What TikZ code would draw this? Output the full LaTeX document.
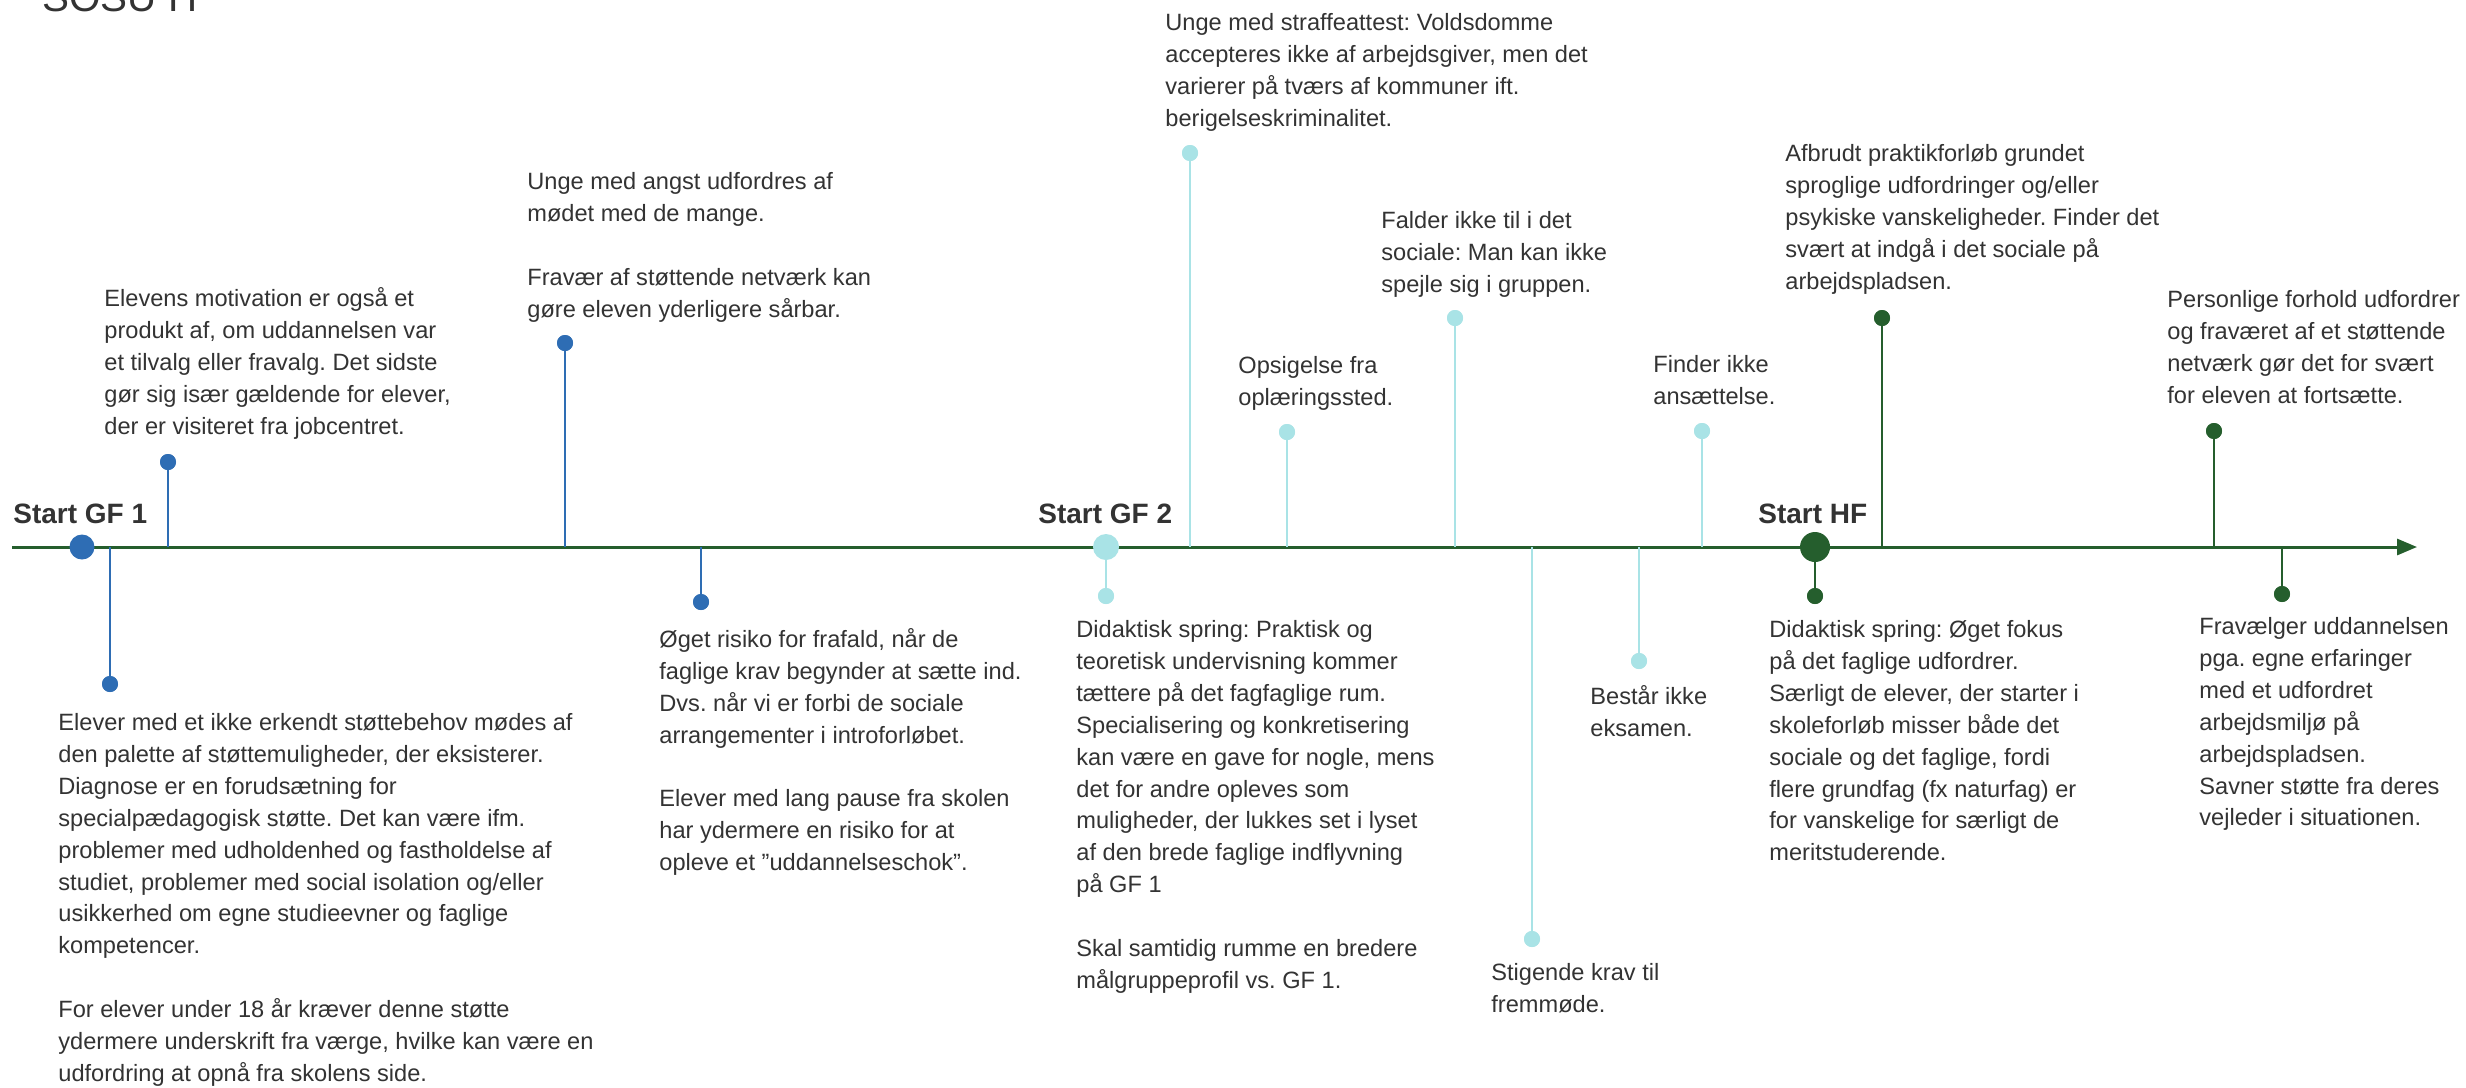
\documentclass[tikz,border=0pt]{standalone}
\usepackage{fontspec}
\setmainfont{Liberation Sans}
\usetikzlibrary{arrows.meta}
\definecolor{tgreen}{HTML}{255E2D}
\definecolor{tblue}{HTML}{2E6DB4}
\definecolor{tcyan}{HTML}{A9E3E6}
\definecolor{ttext}{HTML}{333333}
\frenchspacing
\begin{document}
\begin{tikzpicture}[x=0.5pt,y=-0.5pt,
  note/.style={anchor=north west, inner sep=0pt, align=left, text=ttext, font=\fontsize{11.8}{15.95}\selectfont},
  phase/.style={anchor=base west, inner sep=0pt, text=ttext, font=\fontsize{14}{16}\selectfont\bfseries},
  axisline/.style={draw=tgreen, line width=1.5pt},
  stem/.style={line width=1.2pt},
  tipdot/.style={circle, inner sep=0pt, minimum size=8pt},
  bigdot/.style={circle, inner sep=0pt}]
\useasboundingbox[fill=white] (0,0) rectangle (2466,1087);
% title (cut off at top, as in the reference)
\node[anchor=base west, inner sep=0pt, text=ttext, font=\fontsize{20.2}{22}\selectfont] (title) at (42,11) {SOSU H};
% axis
\coordinate (axS) at (12,547);
\coordinate (axE) at (2417,547);
\draw[axisline, -{Triangle[length=10pt,width=8pt]}] (axS) -- (axE);
% axis anchor points
\foreach \n/\x in {a1/110,a2/168,a3/565,a4/701,b0/1106,b1/1190,b2/1287,b3/1455,b4/1532,b5/1639,b6/1702,c0/1815,c1/1882,c2/2214,c3/2282}
  \coordinate (\n) at (\x,547);
% end dots
\node[tipdot, fill=tblue] (d1) at (110,684) {};
\node[tipdot, fill=tblue] (d2) at (168,462) {};
\node[tipdot, fill=tblue] (d3) at (565,343) {};
\node[tipdot, fill=tblue] (d4) at (701,602) {};
\node[tipdot, fill=tcyan] (e0) at (1106,596) {};
\node[tipdot, fill=tcyan] (e1) at (1190,153) {};
\node[tipdot, fill=tcyan] (e2) at (1287,432) {};
\node[tipdot, fill=tcyan] (e3) at (1455,318) {};
\node[tipdot, fill=tcyan] (e4) at (1532,939) {};
\node[tipdot, fill=tcyan] (e5) at (1639,661) {};
\node[tipdot, fill=tcyan] (e6) at (1702,431) {};
\node[tipdot, fill=tgreen] (f0) at (1815,596) {};
\node[tipdot, fill=tgreen] (f1) at (1882,318) {};
\node[tipdot, fill=tgreen] (f2) at (2214,431) {};
\node[tipdot, fill=tgreen] (f3) at (2282,594) {};
% stems
\foreach \a/\b in {a1/d1,a2/d2,a3/d3,a4/d4}
  \draw[stem, draw=tblue] (\a) -- (\b.center);
\foreach \a/\b in {b0/e0,b1/e1,b2/e2,b3/e3,b4/e4,b5/e5,b6/e6}
  \draw[stem, draw=tcyan] (\a) -- (\b.center);
\foreach \a/\b in {c0/f0,c1/f1,c2/f2,c3/f3}
  \draw[stem, draw=tgreen] (\a) -- (\b.center);
% redraw end dots on top
\foreach \n/\c in {d1/tblue,d2/tblue,d3/tblue,d4/tblue,e0/tcyan,e1/tcyan,e2/tcyan,e3/tcyan,e4/tcyan,e5/tcyan,e6/tcyan,f0/tgreen,f1/tgreen,f2/tgreen,f3/tgreen}
  \fill[\c] (\n.center) circle (8);
% phase dots
\node[bigdot, fill=tblue, minimum size=12.5pt] (gf1) at (82,547) {};
\node[bigdot, fill=tcyan, minimum size=13pt] (gf2) at (1106,547) {};
\node[bigdot, fill=tgreen, minimum size=15pt] (hf) at (1815,547) {};
% phase labels
\node[phase] (lgf1) at (13,523) {Start GF 1};
\node[phase] (lgf2) at (1038,523) {Start GF 2};
\node[phase] (lhf) at (1758,523) {Start HF};
% notes
\node[note] (t2) at (104,287) {Elevens motivation er også et\\produkt af, om uddannelsen var\\et tilvalg eller fravalg. Det sidste\\gør sig især gældende for elever,\\der er visiteret fra jobcentret.};
\node[note] (t3) at (527,172) {Unge med angst udfordres af\\mødet med de mange.\\[15.95pt]Fravær af støttende netværk kan\\gøre eleven yderligere sårbar.};
\node[note] (t4) at (659,628) {Øget risiko for frafald, når de\\faglige krav begynder at sætte ind.\\Dvs. når vi er forbi de sociale\\arrangementer i introforløbet.\\[15.95pt]Elever med lang pause fra skolen\\har ydermere en risiko for at\\opleve et ”uddannelseschok”.};
\node[note] (t1) at (58,713) {Elever med et ikke erkendt støttebehov mødes af\\den palette af støttemuligheder, der eksisterer.\\Diagnose er en forudsætning for\\specialpædagogisk støtte. Det kan være ifm.\\problemer med udholdenhed og fastholdelse af\\studiet, problemer med social isolation og/eller\\usikkerhed om egne studieevner og faglige\\kompetencer.\\[15.95pt]For elever under 18 år kræver denne støtte\\ydermere underskrift fra værge, hvilke kan være en\\udfordring at opnå fra skolens side.};
\node[note] (u0) at (1076,620) {Didaktisk spring: Praktisk og\\teoretisk undervisning kommer\\tættere på det fagfaglige rum.\\Specialisering og konkretisering\\kan være en gave for nogle, mens\\det for andre opleves som\\muligheder, der lukkes set i lyset\\af den brede faglige indflyvning\\på GF 1\\[15.95pt]Skal samtidig rumme en bredere\\målgruppeprofil vs. GF 1.};
\node[note] (u1) at (1165,13) {Unge med straffeattest: Voldsdomme\\accepteres ikke af arbejdsgiver, men det\\varierer på tværs af kommuner ift.\\berigelseskriminalitet.};
\node[note] (u2) at (1238,356) {Opsigelse fra\\oplæringssted.};
\node[note] (u3) at (1381,211) {Falder ikke til i det\\sociale: Man kan ikke\\spejle sig i gruppen.};
\node[note] (u4) at (1491,963) {Stigende krav til\\fremmøde.};
\node[note] (u5) at (1590,685) {Består ikke\\eksamen.};
\node[note] (u6) at (1653,355) {Finder ikke\\ansættelse.};
\node[note] (v0) at (1769,620) {Didaktisk spring: Øget fokus\\på det faglige udfordrer.\\Særligt de elever, der starter i\\skoleforløb misser både det\\sociale og det faglige, fordi\\flere grundfag (fx naturfag) er\\for vanskelige for særligt de\\meritstuderende.};
\node[note] (v1) at (1785,144) {Afbrudt praktikforløb grundet\\sproglige udfordringer og/eller\\psykiske vanskeligheder. Finder det\\svært at indgå i det sociale på\\arbejdspladsen.};
\node[note] (v2) at (2167,290) {Personlige forhold udfordrer\\og fraværet af et støttende\\netværk gør det for svært\\for eleven at fortsætte.};
\node[note] (v3) at (2199,617) {Fravælger uddannelsen\\pga. egne erfaringer\\med et udfordret\\arbejdsmiljø på\\arbejdspladsen.\\Savner støtte fra deres\\vejleder i situationen.};
\end{tikzpicture}
\end{document}
